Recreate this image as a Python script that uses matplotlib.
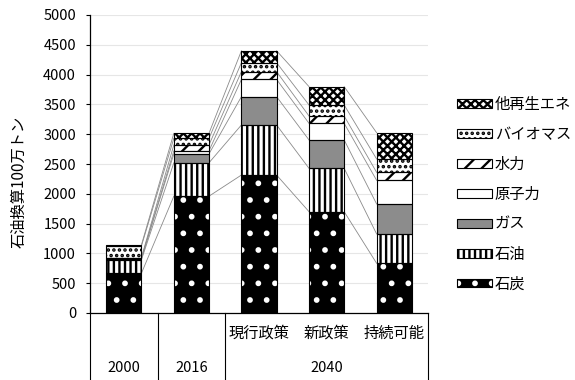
import numpy as np
import matplotlib
matplotlib.use("Agg")
import matplotlib.pyplot as plt
from matplotlib.patches import Patch

plt.rcParams["font.family"] = ["Noto Sans CJK JP", "DejaVu Sans"]
plt.rcParams["hatch.linewidth"] = 1.7

# ------------------------
# Data (Mtoe)
# ------------------------
sub_labels = ["", "", "現行政策", "新政策", "持続可能"]
year_labels = ["2000", "2016", "2040"]
year_centers = [0, 1, 3]

coal = [665, 1960, 2315, 1700, 834]
oil = [225, 560, 840, 727, 492]
gas = [20, 150, 475, 476, 503]
nuclear = [5, 50, 290, 279, 397]
hydro = [15, 100, 130, 123, 134]
biomass = [190, 110, 150, 185, 224]
other = [20, 85, 200, 308, 441]

series_names = ["石炭", "石油", "ガス", "原子力", "水力", "バイオマス", "他再生エネ"]
series_values = [coal, oil, gas, nuclear, hydro, biomass, other]

# style per series: face, hatch, hatch colour
styles = [
    dict(face="black", hatch=".", hc="white"),
    dict(face="white", hatch="|||", hc="black"),
    dict(face="#8c8c8c", hatch=None, hc="black"),
    dict(face="white", hatch=None, hc="black"),
    dict(face="white", hatch="//", hc="black"),
    dict(face="white", hatch="...", hc="black"),
    dict(face="white", hatch="xxxx", hc="black"),
]

# ------------------------
# Figure
# ------------------------
W, H = 575, 380
fig = plt.figure(figsize=(W / 100, H / 100), dpi=100)
ax = fig.add_axes([90 / W, 1 - 313 / H, (428 - 90) / W, (313 - 15) / H])

x = np.arange(len(sub_labels))
width = 0.52
bottom = np.zeros(len(x))
tops = []
handles = []
for name, vals, st in zip(series_names, series_values, styles):
    vals = np.array(vals, dtype=float)
    ax.bar(x, vals, width, bottom=bottom, color=st["face"],
           edgecolor=st["hc"], hatch=st["hatch"], linewidth=0, zorder=3)
    ax.bar(x, vals, width, bottom=bottom, fill=False, edgecolor="black",
           linewidth=0.8, zorder=4)
    h = Patch(facecolor=st["face"], edgecolor=st["hc"], hatch=st["hatch"], linewidth=0)
    handles.append((h, Patch(fill=False, edgecolor="black", linewidth=0.8)))
    bottom = bottom + vals
    tops.append(bottom.copy())

# series lines between bars
for cum in tops:
    for i in range(len(x) - 1):
        ax.plot([x[i] + width / 2, x[i + 1] - width / 2], [cum[i], cum[i + 1]],
                color="#8a8a8a", linewidth=0.6, zorder=2)

# axes styling
ax.set_xlim(-0.5, len(x) - 0.5)
ax.set_ylim(0, 5000)
ax.set_yticks(np.arange(0, 5001, 500))
ax.tick_params(axis="y", labelsize=10.5, length=3, width=0.8, direction="out", pad=7)
ax.set_xticks([])
for s in ["top", "right"]:
    ax.spines[s].set_visible(False)
ax.spines["left"].set_linewidth(0.9)
ax.spines["bottom"].set_linewidth(0.9)
ax.yaxis.grid(True, color="#e6e6e6", linewidth=0.8, zorder=0)
ax.set_axisbelow(True)
ax.set_ylabel("石油換算100万トン", fontsize=11)
ax.yaxis.set_label_coords(-0.185, 0.44)

# multi-level category axis
tr = ax.get_xaxis_transform()
for xv in [-0.5, 0.5, 1.5, len(x) - 0.5]:
    ax.plot([xv, xv], [0, -0.23], transform=tr, color="black", linewidth=0.8, clip_on=False)
for xi, lab in zip(x, sub_labels):
    if lab:
        ax.text(xi, -0.068, lab, transform=tr, ha="center", va="center", fontsize=11)
for xc, lab in zip(year_centers, year_labels):
    ax.text(xc, -0.185, lab, transform=tr, ha="center", va="center", fontsize=10.5)

# legend
fig.legend(handles[::-1], series_names[::-1], loc="upper left",
           bbox_to_anchor=(449 / W, 1 - 88 / H), frameon=False, fontsize=11,
           handlelength=2.3, handleheight=0.5, handletextpad=0.2,
           labelspacing=0.85, borderpad=0)

fig.savefig("out.png", dpi=100)
